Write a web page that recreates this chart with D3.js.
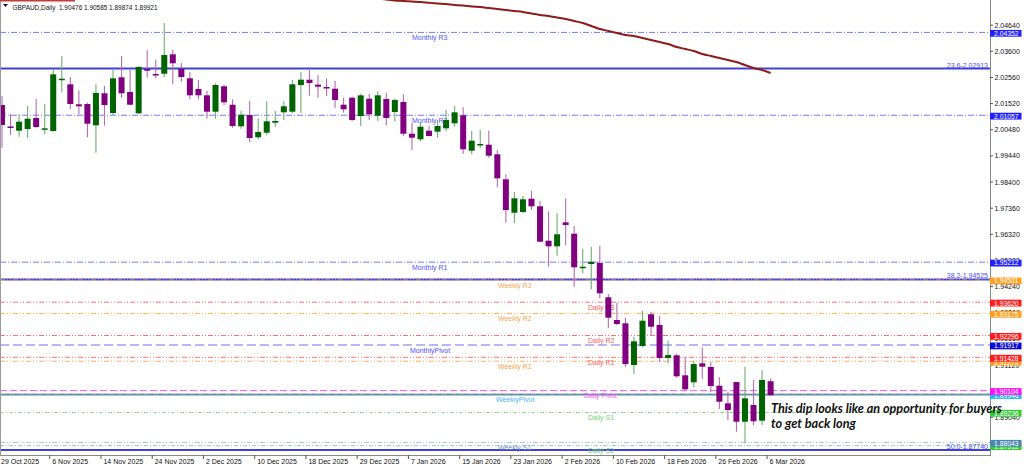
<!DOCTYPE html>
<html><head><meta charset="utf-8">
<script src="https://cdn.jsdelivr.net/npm/d3@7"></script>
<style>html,body{margin:0;padding:0;background:#fff;overflow:hidden}</style>
</head><body><svg id="c" width="1024" height="467"></svg>
<script>
// ---------------- DATA ----------------
const dates = ["2025-10-29","2025-10-30","2025-10-31","2025-11-03","2025-11-04","2025-11-05","2025-11-06","2025-11-07","2025-11-10","2025-11-11","2025-11-12","2025-11-13","2025-11-14","2025-11-17","2025-11-18","2025-11-19","2025-11-20","2025-11-21","2025-11-24","2025-11-25","2025-11-26","2025-11-27","2025-11-28","2025-12-01","2025-12-02","2025-12-03","2025-12-04","2025-12-05","2025-12-08","2025-12-09","2025-12-10","2025-12-11","2025-12-12","2025-12-15","2025-12-16","2025-12-17","2025-12-18","2025-12-19","2025-12-22","2025-12-23","2025-12-24","2025-12-26","2025-12-29","2025-12-30","2025-12-31","2026-01-02","2026-01-05","2026-01-06","2026-01-07","2026-01-08","2026-01-09","2026-01-12","2026-01-13","2026-01-14","2026-01-15","2026-01-16","2026-01-19","2026-01-20","2026-01-21","2026-01-22","2026-01-23","2026-01-26","2026-01-27","2026-01-28","2026-01-29","2026-01-30","2026-02-02","2026-02-03","2026-02-04","2026-02-05","2026-02-06","2026-02-09","2026-02-10","2026-02-11","2026-02-12","2026-02-13","2026-02-16","2026-02-17","2026-02-18","2026-02-19","2026-02-20","2026-02-23","2026-02-24","2026-02-25","2026-02-26","2026-02-27","2026-03-02","2026-03-03","2026-03-04","2026-03-05","2026-03-06"];

const openP = [2.01464,2.00609,2.00442,2.00510,2.00947,2.00482,2.00430,2.02459,2.02288,2.01492,2.01504,2.00657,2.01930,2.01146,2.02566,2.01981,2.01134,2.02896,2.02697,2.02709,2.03481,2.02908,2.02526,2.02101,2.01850,2.01198,2.02208,2.01476,2.00617,2.01066,2.00179,2.00362,2.00760,2.01174,2.01198,2.02260,2.02471,2.02272,2.02180,2.02113,2.01476,2.01755,2.01027,2.01715,2.01039,2.01703,2.01186,2.01584,2.00323,2.00100,2.00442,2.00402,2.00537,2.00736,2.01055,1.99646,1.99873,1.99885,1.99503,1.98509,1.97180,1.97208,1.97737,1.97435,1.96066,1.95843,1.96798,1.96345,1.94968,1.95139,1.95179,1.93815,1.92912,1.92780,1.91122,1.91878,1.93139,1.92713,1.91400,1.91508,1.90712,1.90434,1.91189,1.91042,1.90298,1.89598,1.90445,1.88866,1.89531,1.88906,1.90476];
const highP = [2.01822,2.01106,2.01094,2.01424,2.01703,2.01492,2.02896,2.03413,2.02578,2.02049,2.01556,2.02288,2.02220,2.02857,2.03413,2.02857,2.03016,2.03652,2.03266,2.04726,2.03664,2.03135,2.02765,2.02459,2.02021,2.02327,2.02272,2.01691,2.01238,2.01635,2.00935,2.01611,2.01238,2.01611,2.02459,2.02777,2.02857,2.02658,2.02526,2.02419,2.01755,2.01794,2.01914,2.01914,2.02009,2.01954,2.01715,2.01890,2.00748,2.00788,2.00641,2.00868,2.01265,2.01424,2.01373,2.00430,2.00470,2.00442,1.99674,1.98707,1.98003,1.97844,1.98055,1.97645,1.97236,1.97156,1.97753,1.96663,1.95748,1.95828,1.95867,1.93946,1.93600,1.93003,1.92247,1.93270,1.93230,1.93083,1.92088,1.91571,1.91452,1.91293,1.91826,1.91253,1.90632,1.90036,1.90445,1.91054,1.90525,1.90923,1.90585];
const lowP = [1.99766,2.00271,2.00203,2.00163,2.00537,2.00299,2.00402,2.01969,2.01293,2.01094,2.00179,1.99567,2.00641,2.01066,2.01755,2.01464,2.01106,2.02550,2.02526,2.02578,2.02288,2.02391,2.01691,2.01691,2.00919,2.00919,2.01464,2.00561,2.00521,1.99980,2.00100,2.00259,2.00601,2.00868,2.01134,2.01158,2.01834,2.01755,2.01822,2.01357,2.01158,2.00828,2.00629,2.00868,2.00828,2.00657,2.00816,2.00231,1.99674,2.00020,2.00219,2.00163,2.00418,2.00601,1.99515,1.99503,1.99754,1.99368,1.98190,1.96782,1.96758,1.97180,1.97287,1.96003,1.95032,1.95470,1.95883,1.94236,1.94769,1.94133,1.93775,1.92582,1.92701,1.91030,1.90764,1.91826,1.92275,1.91241,1.91189,1.90617,1.90099,1.90235,1.90565,1.90048,1.89371,1.88934,1.88468,1.88007,1.88723,1.88735,1.89874];
const closeP = [2.00669,2.00569,2.00800,2.00919,2.00589,2.00537,2.02685,2.02510,2.01504,2.01413,2.00720,2.01942,2.01464,2.02526,2.01930,2.01476,2.02976,2.02829,2.02670,2.03453,2.03123,2.02578,2.01850,2.01850,2.01198,2.02260,2.01572,2.00629,2.01078,2.00152,2.00390,2.00816,2.00828,2.01413,2.02288,2.02471,2.02339,2.02192,2.02129,2.01663,2.01293,2.00868,2.01850,2.01094,2.01850,2.00947,2.01663,2.00323,2.00163,2.00601,2.00231,2.00629,2.00868,2.01174,1.99702,2.00044,1.99913,1.99447,1.98548,1.97287,1.97753,1.97713,1.97435,1.96026,1.95843,1.96321,1.96691,1.95008,1.95032,1.95231,1.93974,1.93003,1.92753,1.91161,1.92064,1.92884,1.92645,1.91400,1.91520,1.90672,1.90155,1.91161,1.91054,1.90286,1.89662,1.89332,1.88866,1.89797,1.88882,1.90525,1.89921];

// moving average (dark red curve), starting at dates index maStart
const maStart = 44;
const maValues = [2.05700,2.05660,2.05621,2.05601,2.05581,2.05561,2.05530,2.05502,2.05482,2.05442,2.05422,2.05382,2.05363,2.05323,2.05283,2.05243,2.05203,2.05164,2.05104,2.05044,2.05005,2.04945,2.04885,2.04806,2.04726,2.04607,2.04487,2.04408,2.04328,2.04249,2.04209,2.04129,2.04050,2.03970,2.03891,2.03771,2.03692,2.03612,2.03493,2.03413,2.03334,2.03254,2.03175,2.03055,2.02936,2.02856,2.02737];

// horizontal levels
const levelNames = ["Monthly R3","23.6-2.02913","Monthly R2","Monthly R1","38.2-1.94525","Weekly R3","Daily R3","Weekly R2","Daily R2","MonthlyPivot","Daily R1","Weekly R1","Daily Pivot","WeeklyPivot","Daily S1","Weekly S1","Daily S2","50.0-1.87740"];
const levelValues = [2.04352,2.02913,2.01057,1.95212,1.94525,1.94501,1.93620,1.93175,1.92296,1.91917,1.91428,1.91272,1.90104,1.89946,1.89236,1.88043,1.87912,1.87740];
const levelKinds = ["monthly","fib","monthly","monthly","fib","weekly","daily","weekly","daily","mpivot","daily","weekly","dpivot","wpivot","dsupport","wsupport","dsupport","fib"];

// axes
const priceTicks = [2.04640,2.03600,2.02560,2.01520,2.00480,1.99440,1.98400,1.97360,1.96320,1.95280,1.94240,1.93200,1.92160,1.91120,1.90080,1.89040,1.88000];
const tickDates = ["2025-10-29","2025-11-06","2025-11-14","2025-11-24","2025-12-02","2025-12-10","2025-12-18","2025-12-29","2026-01-07","2026-01-15","2026-01-23","2026-02-02","2026-02-10","2026-02-18","2026-02-26","2026-03-06"];
const tickLabels = ["29 Oct 2025","6 Nov 2025","14 Nov 2025","24 Nov 2025","2 Dec 2025","10 Dec 2025","18 Dec 2025","29 Dec 2025","7 Jan 2026","15 Jan 2026","23 Jan 2026","2 Feb 2026","10 Feb 2026","18 Feb 2026","26 Feb 2026","6 Mar 2026"];

const titleText = "GBPAUD,Daily  1.90476 1.90585 1.89874 1.89921";
const noteLines = ["This dip looks like an opportunity for buyers","to get back long"];

// ---------------- STYLES ----------------
const kindStyle = {
  monthly:  {line:"#7878ff", dash:"6,2,1,2", w:1, text:"#5252ff", lx:412, box:"#1f1fff"},
  fib:      {line:"#4040d2", dash:null, w:2, text:"#4d4dff", lx:null, box:null},
  weekly:   {line:"#ffad55", dash:"5,2,1,2,1,2", w:1, text:"#f8a44a", lx:498, box:"#ff9f1f"},
  daily:    {line:"#ff6e6e", dash:"5,2,1,2,1,2", w:1, text:"#ff5a5a", lx:588, box:"#ff1c1c"},
  mpivot:   {line:"#a0a0f6", dash:"9,4", w:1.6, text:"#4d4dff", lx:410, box:"#0a0ad0"},
  dpivot:   {line:"#ff55ff", dash:"7,3", w:1, text:"#ff4cff", lx:584, box:"#ff10ff"},
  wpivot:   {line:"#5b90a8", dash:null, w:2, text:"#48b8f8", lx:496, box:"#19b6f0"},
  dsupport: {line:"#8cd88c", dash:"4,2,1,2", w:1, text:"#74d074", lx:588, box:"#34cc34"},
  wsupport: {line:"#a4c2e0", dash:"5,2,1,2,1,2", w:1, text:"#6f8fcf", lx:498, box:"#4a86b4"}
};

// ---------------- DRAW ----------------
const svg = d3.select("#c");
const plotR = 990, plotB = 455;
const x = d3.scalePoint().domain(dates).range([2, 770.6]);
const y = d3.scaleLinear().domain([1.87542, 2.05641]).range([plotB, 0]);

svg.append("rect").attr("width",1024).attr("height",467).attr("fill","#fff");
svg.append("defs").append("clipPath").attr("id","plot")
  .append("rect").attr("x",0).attr("y",0).attr("width",plotR).attr("height",plotB);

const plot = svg.append("g").attr("clip-path","url(#plot)");

const levels = levelValues.map((v,i)=>({v, name:levelNames[i], kind:levelKinds[i]}));

// level lines
plot.selectAll("line.lvl").data(levels).join("line")
  .attr("x1",0).attr("x2",plotR)
  .attr("y1",d=>y(d.v)).attr("y2",d=>y(d.v))
  .attr("stroke",d=>kindStyle[d.kind].line)
  .attr("stroke-width",d=>kindStyle[d.kind].w)
  .attr("stroke-dasharray",d=>kindStyle[d.kind].dash);
// light dashed overlay on weekly pivot
plot.selectAll("line.wp").data(levels.filter(d=>d.kind==="wpivot")).join("line")
  .attr("x1",0).attr("x2",plotR)
  .attr("y1",d=>y(d.v)-1).attr("y2",d=>y(d.v)-1)
  .attr("stroke","#d4d4d4").attr("stroke-width",1).attr("stroke-dasharray","6,3");

// level labels (drawn below candles)
const font = "'Liberation Sans', Arial, sans-serif";
plot.selectAll("text.lvl").data(levels.filter(d=>d.kind!=="fib")).join("text")
  .attr("x",d=>kindStyle[d.kind].lx)
  .attr("y",d=>y(d.v)+7.5)
  .attr("font-family",font).attr("font-size",7)
  .attr("fill",d=>kindStyle[d.kind].text)
  .text(d=>d.name);
plot.selectAll("text.fib").data(levels.filter(d=>d.kind==="fib")).join("text")
  .attr("x",988).attr("y",d=>y(d.v)-1)
  .attr("text-anchor","end")
  .attr("font-family",font).attr("font-size",7)
  .attr("fill",d=>kindStyle[d.kind].text)
  .text(d=>d.name);

// moving average
const maData = maValues.map((v,i)=>({d:dates[maStart+i], v}));
plot.append("path").datum(maData)
  .attr("d", d3.line().x(d=>x(d.d)).y(d=>y(d.v)).curve(d3.curveMonotoneX))
  .attr("fill","none").attr("stroke","#8e1b1b").attr("stroke-width",2);

// candles
const candles = dates.map((d,i)=>({d, o:openP[i], h:highP[i], l:lowP[i], c:closeP[i]}));
const bull = d=>d.c>=d.o;
plot.selectAll("line.wick").data(candles).join("line")
  .attr("x1",d=>x(d.d)).attr("x2",d=>x(d.d))
  .attr("y1",d=>y(d.h)).attr("y2",d=>y(d.l))
  .attr("stroke",d=>bull(d)?"#6fae6f":"#b46cb4").attr("stroke-width",1.1);
plot.selectAll("rect.body").data(candles).join("rect")
  .attr("x",d=>x(d.d)-3).attr("width",6)
  .attr("y",d=>Math.min(y(d.o),y(d.c)))
  .attr("height",d=>Math.max(1.5,Math.abs(y(d.o)-y(d.c))))
  .attr("fill",d=>bull(d)?"#006400":"#800080");

// frame
svg.append("line").attr("x1",0.5).attr("x2",0.5).attr("y1",0).attr("y2",plotB).attr("stroke","#9a9a9a");
svg.append("line").attr("x1",plotR+0.5).attr("x2",plotR+0.5).attr("y1",0).attr("y2",plotB+1).attr("stroke","#8a8a8a");
svg.append("line").attr("x1",0).attr("x2",plotR+1).attr("y1",plotB+0.5).attr("y2",plotB+0.5).attr("stroke","#8a8a8a");
svg.append("rect").attr("x",0).attr("y",0).attr("width",75).attr("height",1.5).attr("fill","#c83a3a");

// right price axis
const ax = svg.append("g");
ax.selectAll("line.tk").data(priceTicks).join("line")
  .attr("x1",plotR).attr("x2",plotR+3).attr("y1",d=>y(d)).attr("y2",d=>y(d)).attr("stroke","#555");
ax.selectAll("text.tk").data(priceTicks).join("text")
  .attr("x",plotR+4.5).attr("y",d=>y(d)+2.5)
  .attr("font-family",font).attr("font-size",7).attr("fill","#111")
  .text(d=>d.toFixed(5));
// level price boxes (draw lower ones first so upper overlap)
const boxed = levels.filter(d=>d.kind!=="fib").sort((a,b)=>a.v-b.v);
const bg = ax.selectAll("g.box").data(boxed).join("g").attr("transform",d=>`translate(${plotR},${y(d.v)+0.8})`);
bg.append("rect").attr("x",0).attr("y",-3.3).attr("width",31.5).attr("height",6.8)
  .attr("fill",d=>kindStyle[d.kind].box);
bg.append("text").attr("x",4).attr("y",2.5)
  .attr("font-family",font).attr("font-size",6.8).attr("fill","#fff")
  .text(d=>d.v.toFixed(5));

// bottom time axis
const tx = svg.append("g");
tx.selectAll("line").data(tickDates).join("line")
  .attr("x1",d=>x(d)-3.5).attr("x2",d=>x(d)-3.5).attr("y1",plotB).attr("y2",plotB+4).attr("stroke","#555");
tx.selectAll("text").data(tickLabels).join("text")
  .attr("x",(d,i)=>x(tickDates[i])-1).attr("y",464)
  .attr("font-family",font).attr("font-size",7).attr("fill","#111")
  .text(d=>d);

// title
svg.append("path").attr("d","M3,4 L8,4 L5.5,7 Z").attr("fill","#111");
svg.append("text").attr("x",12.5).attr("y",9.5)
  .attr("font-family",font).attr("font-size",7).attr("fill","#111")
  .attr("xml:space","preserve").style("white-space","pre")
  .attr("textLength",145).attr("lengthAdjust","spacingAndGlyphs")
  .text(titleText);

// annotation
const noteY = [413, 428];
const noteW = [231, 85];
svg.selectAll("text.note").data(noteLines).join("text")
  .attr("x",771).attr("y",(d,i)=>noteY[i])
  .attr("font-family","Lato, 'Open Sans', sans-serif").attr("font-weight","bold").attr("font-style","italic")
  .attr("font-size",13).attr("fill","#111")
  .attr("textLength",(d,i)=>noteW[i]).attr("lengthAdjust","spacingAndGlyphs")
  .text(d=>d);
</script>
</body></html>
